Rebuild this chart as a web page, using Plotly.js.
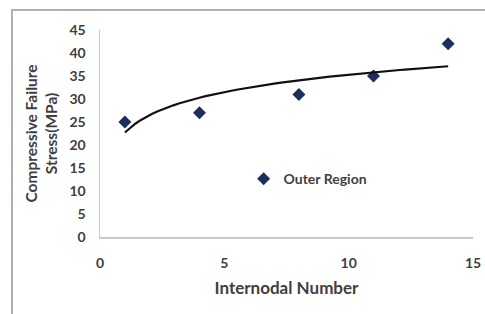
<!DOCTYPE html>
<html><head><meta charset="utf-8">
<script src="https://cdn.plot.ly/plotly-3.0.1.min.js"></script>
<style>html,body{margin:0;padding:0;background:#fff}#chart{width:485px;height:314px}</style>
</head><body><div id="chart"></div>
<script>
const internodes = [1, 4, 8, 11, 14];
const stress = [25, 27, 31, 35, 42];
const seriesName = 'Outer Region';
const xTicks = [0, 5, 10, 15];
const yTicks = [0, 5, 10, 15, 20, 25, 30, 35, 40, 45];

// Logarithmic trendline (least squares on ln x), as a spreadsheet trendline
const lx = internodes.map(Math.log);
const n = lx.length;
const mx = lx.reduce((a, b) => a + b, 0) / n;
const my = stress.reduce((a, b) => a + b, 0) / n;
let sxy = 0, sxx = 0;
for (let i = 0; i < n; i++) { sxy += (lx[i] - mx) * (stress[i] - my); sxx += (lx[i] - mx) ** 2; }
const slope = sxy / sxx, icpt = my - slope * mx;
const trendX = [], trendY = [];
const x0 = internodes[0], x1 = internodes[n - 1];
for (let k = 0; k <= 60; k++) { const x = x0 + (x1 - x0) * k / 60; trendX.push(x); trendY.push(icpt + slope * Math.log(x)); }

const font = 'Lato, "Open Sans", sans-serif';
const data = [
  { x: internodes, y: stress, mode: 'markers', type: 'scatter', name: seriesName,
    marker: { symbol: 'diamond', size: 10, color: '#1c2f5c' } },
  { x: trendX, y: trendY, mode: 'lines', type: 'scatter', showlegend: false,
    line: { color: '#111', width: 2.2 }, hoverinfo: 'skip' }
];
const layout = {
  width: 485, height: 314,
  margin: { l: 100, r: 12, t: 30, b: 77 },
  paper_bgcolor: '#fff', plot_bgcolor: '#fff',
  font: { family: font, color: '#404040', size: 13 },
  showlegend: true,
  legend: { x: 0.385, y: 0.28, xanchor: 'left', yanchor: 'middle', bgcolor: 'rgba(0,0,0,0)',
    font: { family: font, size: 14, color: '#404040', weight: 'bold' } },
  xaxis: { range: [0, 15], tickvals: xTicks, showgrid: false, zeroline: false,
    showline: true, linecolor: '#c8c8c8', linewidth: 1.5, ticks: '',
    ticklabelstandoff: 13, tickfont: { size: 14, weight: 'bold', color: '#404040' },
    title: { text: 'Internodal Number', standoff: 12, font: { size: 17, weight: 'bold', color: '#404040' } } },
  yaxis: { range: [0, 45], tickvals: yTicks, showgrid: false, zeroline: false,
    showline: true, linecolor: '#c8c8c8', linewidth: 1.5, ticks: '',
    ticklabelstandoff: 10, tickfont: { size: 14, weight: 'bold', color: '#404040' },
    title: { text: 'Compressive Failure<br>Stress(MPa)', standoff: 8, font: { size: 15.5, weight: 'bold', color: '#404040' } } },
  shapes: [{ type: 'rect', xref: 'paper', yref: 'paper', x0: -0.236, x1: 1.2, y0: -0.6, y1: 1.097,
    line: { color: '#b0b0b0', width: 2 }, layer: 'below' }]
};
Plotly.newPlot('chart', data, layout, { displayModeBar: false, staticPlot: true });
</script></body></html>
